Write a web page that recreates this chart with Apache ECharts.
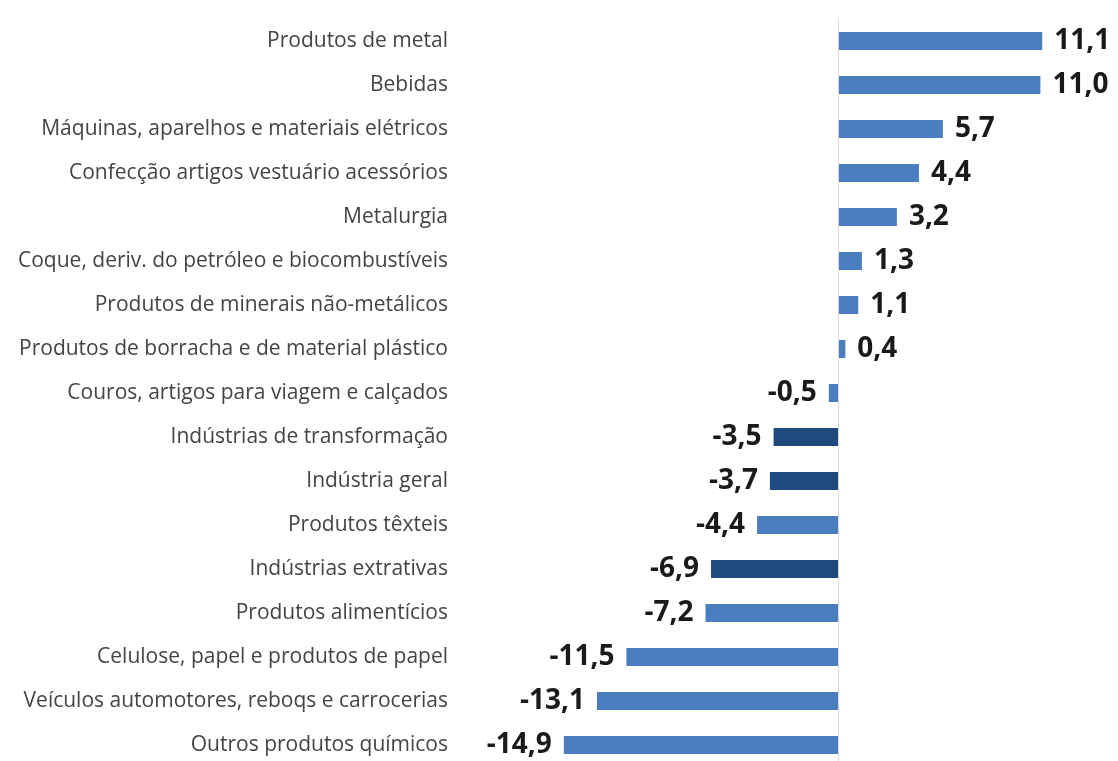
<!DOCTYPE html>
<html>
<head>
<meta charset="utf-8">
<script src="https://cdn.jsdelivr.net/npm/echarts@6/dist/echarts.min.js"></script>
<style>html,body{margin:0;padding:0;background:#fff;overflow:hidden;}#c{width:1118px;height:767px;}</style>
</head>
<body>
<div id="c"></div>
<script>
const categories = [
  "Produtos de metal",
  "Bebidas",
  "Máquinas, aparelhos e materiais elétricos",
  "Confecção artigos vestuário acessórios",
  "Metalurgia",
  "Coque, deriv. do petróleo e biocombustíveis",
  "Produtos de minerais não-metálicos",
  "Produtos de borracha e de material plástico",
  "Couros, artigos para viagem e calçados",
  "Indústrias de transformação",
  "Indústria geral",
  "Produtos têxteis",
  "Indústrias extrativas",
  "Produtos alimentícios",
  "Celulose, papel e produtos de papel",
  "Veículos automotores, reboqs e carrocerias",
  "Outros produtos químicos"
];
const values = [11.1, 11.0, 5.7, 4.4, 3.2, 1.3, 1.1, 0.4, -0.5, -3.5, -3.7, -4.4, -6.9, -7.2, -11.5, -13.1, -14.9];
const highlighted = ["Indústrias de transformação", "Indústria geral", "Indústrias extrativas"];

const LIGHT = '#4a7ebf', DARK = '#1f4a7e';
const chart = echarts.init(document.getElementById('c'));
chart.setOption({
  animation: false,
  grid: { left: 562, right: 4, top: 19, bottom: 0 },
  xAxis: {
    type: 'value', min: -15, max: 15, show: false
  },
  yAxis: {
    type: 'category', data: categories, inverse: true,
    axisLine: { show: false }, axisTick: { show: false },
    axisLabel: { margin: 114, fontFamily: 'Open Sans', fontSize: 21, color: '#444444' }
  },
  series: [{
    type: 'bar', barWidth: 18,
    data: values.map((v, i) => ({
      value: v,
      itemStyle: { color: highlighted.includes(categories[i]) ? DARK : LIGHT },
      label: { position: v >= 0 ? 'right' : 'left' }
    })),
    label: {
      show: true, distance: 12,
      fontFamily: 'Open Sans', fontWeight: 'bold', fontSize: 28, color: '#1a1a1a',
      formatter: p => p.value.toFixed(1).replace('.', ',')
    },
    markLine: {
      silent: true, symbol: 'none', label: { show: false },
      lineStyle: { color: '#d9d9d9', type: 'solid', width: 1 },
      data: [{ xAxis: 0 }]
    }
  }]
});
</script>
</body>
</html>
